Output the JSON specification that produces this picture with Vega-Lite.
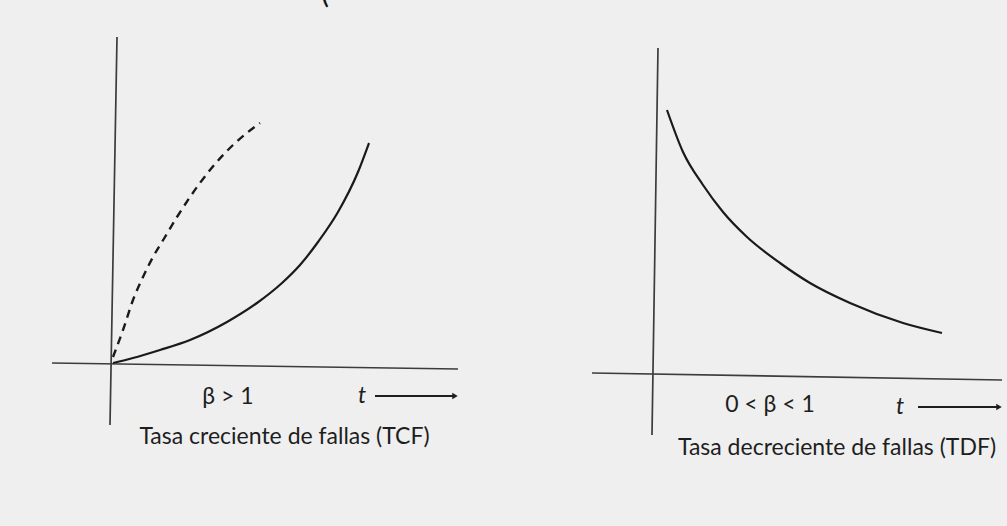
{
  "$schema": "https://vega.github.io/schema/vega-lite/v6.json",
  "padding": 0,
  "spacing": 0,
  "bounds": "flush",
  "background": "#efefef",
  "config": {"view": {"stroke": null}, "text": {"font": "Lato", "color": "#1e1e1e"}},
  "hconcat": [
    {
      "width": 503,
      "height": 526,
      "encoding": {
        "x": {"field": "t", "type": "quantitative", "scale": {"domain": [-2.26, 7.8], "nice": false, "zero": false}, "axis": null},
        "y": {"field": "h", "type": "quantitative", "scale": {"domain": [-3.24, 7.28], "nice": false, "zero": false}, "axis": null}
      },
      "layer": [
        {
          "data": {"values": [
            {"t": -1.22, "h": 0.02, "t2": 6.9, "h2": -0.1},
            {"t": 0.08, "h": 6.54, "t2": -0.06, "h2": -1.22}
          ]},
          "mark": {"type": "rule", "color": "#3c3c3c", "strokeWidth": 1.7},
          "encoding": {"x2": {"field": "t2"}, "y2": {"field": "h2"}}
        },
        {
          "data": {"values": [
            {"t": 0, "h": 0.02}, {"t": 0.4, "h": 0.12}, {"t": 0.94, "h": 0.28}, {"t": 1.54, "h": 0.48},
            {"t": 2.28, "h": 0.84}, {"t": 2.88, "h": 1.22}, {"t": 3.38, "h": 1.62}, {"t": 3.74, "h": 1.98},
            {"t": 4.1, "h": 2.44}, {"t": 4.5, "h": 3.04}, {"t": 4.9, "h": 3.84}, {"t": 5.12, "h": 4.42}
          ]},
          "mark": {"type": "line", "color": "#1a1a1a", "strokeWidth": 2.2, "interpolate": "monotone"}
        },
        {
          "data": {"values": [
            {"t": 0, "h": 0.14}, {"t": 0.2, "h": 0.68}, {"t": 0.4, "h": 1.28}, {"t": 0.6, "h": 1.74},
            {"t": 0.8, "h": 2.14}, {"t": 1.04, "h": 2.54}, {"t": 1.28, "h": 2.94}, {"t": 1.54, "h": 3.34},
            {"t": 1.94, "h": 3.88}, {"t": 2.4, "h": 4.38}, {"t": 2.94, "h": 4.82}
          ]},
          "mark": {"type": "line", "color": "#1a1a1a", "strokeWidth": 2.4, "strokeDash": [8, 6], "interpolate": "monotone"}
        },
        {
          "data": {"values": [{"t": 5.24, "h": -0.64, "t2": 6.8, "h2": -0.64}]},
          "mark": {"type": "rule", "color": "#1e1e1e", "strokeWidth": 2},
          "encoding": {"x2": {"field": "t2"}, "y2": {"field": "h2"}}
        },
        {
          "data": {"values": [{"t": 6.84, "h": -0.64}]},
          "mark": {"type": "point", "shape": "triangle-right", "filled": true, "color": "#1e1e1e", "size": 40, "opacity": 1}
        },
        {
          "data": {"values": [
            {"t": 2.3, "h": -0.66, "label": "β > 1"},
            {"t": 3.43, "h": -1.46, "label": "Tasa creciente de fallas (TCF)"}
          ]},
          "mark": {"type": "text", "fontSize": 23, "align": "center", "baseline": "middle"},
          "encoding": {"text": {"field": "label"}}
        },
        {
          "data": {"values": [{"t": 4.98, "h": -0.64, "label": "t"}]},
          "mark": {"type": "text", "fontSize": 23, "fontStyle": "italic", "align": "center", "baseline": "middle"},
          "encoding": {"text": {"field": "label"}}
        },
        {
          "data": {"values": [{"t": 4.24, "h": 7.4, "label": "("}]},
          "mark": {"type": "text", "fontSize": 30, "align": "center", "baseline": "middle", "clip": true, "color": "#111"},
          "encoding": {"text": {"field": "label"}}
        }
      ]
    },
    {
      "width": 504,
      "height": 526,
      "encoding": {
        "x": {"field": "t", "type": "quantitative", "scale": {"domain": [-3.04, 7.04], "nice": false, "zero": false}, "axis": null},
        "y": {"field": "h", "type": "quantitative", "scale": {"domain": [-3.04, 7.48], "nice": false, "zero": false}, "axis": null}
      },
      "layer": [
        {
          "data": {"values": [
            {"t": -1.26, "h": 0.02, "t2": 6.94, "h2": -0.12},
            {"t": 0.06, "h": 6.52, "t2": -0.06, "h2": -1.22}
          ]},
          "mark": {"type": "rule", "color": "#3c3c3c", "strokeWidth": 1.7},
          "encoding": {"x2": {"field": "t2"}, "y2": {"field": "h2"}}
        },
        {
          "data": {"values": [
            {"t": 0.24, "h": 5.28}, {"t": 0.56, "h": 4.44}, {"t": 0.96, "h": 3.78}, {"t": 1.36, "h": 3.24},
            {"t": 1.84, "h": 2.74}, {"t": 2.5, "h": 2.22}, {"t": 3.1, "h": 1.82}, {"t": 3.9, "h": 1.42},
            {"t": 4.96, "h": 1.02}, {"t": 5.74, "h": 0.82}
          ]},
          "mark": {"type": "line", "color": "#1a1a1a", "strokeWidth": 2.2, "interpolate": "monotone"}
        },
        {
          "data": {"values": [{"t": 5.26, "h": -0.66, "t2": 6.84, "h2": -0.66}]},
          "mark": {"type": "rule", "color": "#1e1e1e", "strokeWidth": 2},
          "encoding": {"x2": {"field": "t2"}, "y2": {"field": "h2"}}
        },
        {
          "data": {"values": [{"t": 6.88, "h": -0.66}]},
          "mark": {"type": "point", "shape": "triangle-right", "filled": true, "color": "#1e1e1e", "size": 40, "opacity": 1}
        },
        {
          "data": {"values": [
            {"t": 2.3, "h": -0.62, "label": "0 < β < 1"},
            {"t": 3.64, "h": -1.48, "label": "Tasa decreciente de fallas (TDF)"}
          ]},
          "mark": {"type": "text", "fontSize": 23, "align": "center", "baseline": "middle"},
          "encoding": {"text": {"field": "label"}}
        },
        {
          "data": {"values": [{"t": 4.9, "h": -0.66, "label": "t"}]},
          "mark": {"type": "text", "fontSize": 23, "fontStyle": "italic", "align": "center", "baseline": "middle"},
          "encoding": {"text": {"field": "label"}}
        }
      ]
    }
  ]
}
